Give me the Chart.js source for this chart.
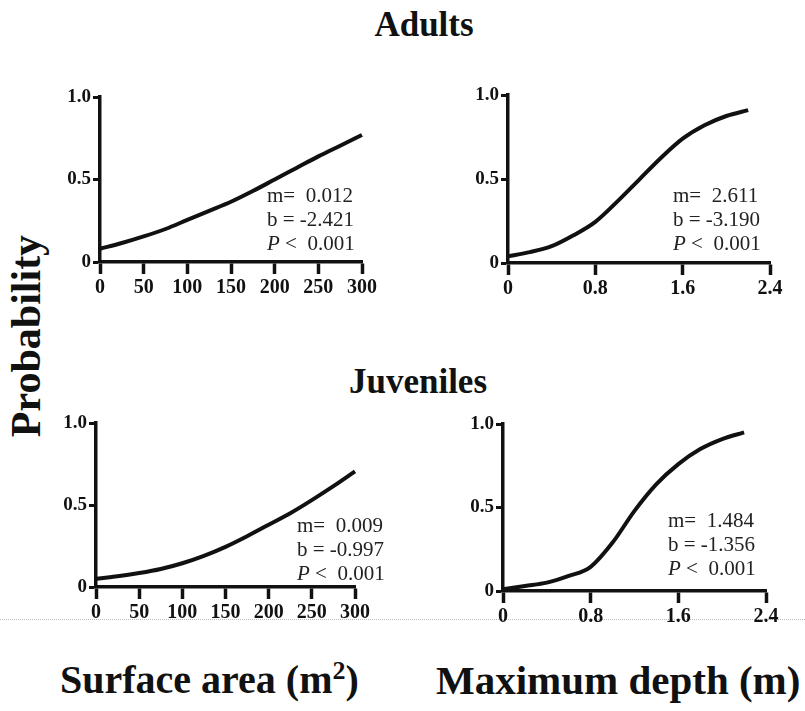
<!DOCTYPE html>
<html>
<head>
<meta charset="utf-8">
<script src="https://cdn.jsdelivr.net/npm/chart.js@4.4.1/dist/chart.umd.min.js"></script>
<style>
  body { margin: 0; background: #fff; }
  #page { position: relative; width: 805px; height: 711px; overflow: hidden; font-family: "Liberation Serif", "DejaVu Serif", serif; color: #111; }
  .box { position: absolute; }
  .title { position: absolute; font-weight: bold; font-size: 35px; line-height: 1; transform: translateX(-50%); white-space: nowrap; }
  .note { position: absolute; font-size: 21px; line-height: 24px; white-space: pre; color: #222; }
  .xlab { position: absolute; font-weight: bold; font-size: 40px; white-space: nowrap; }
  #ylab { position: absolute; left: 26px; top: 336px; font-weight: bold; font-size: 42px; transform: translate(-50%, -50%) rotate(-90deg); white-space: nowrap; }
  #scan { position: absolute; left: 0; top: 619px; width: 805px; border-top: 1px dotted #bbb; }
</style>
</head>
<body>
<div id="page">
  <div class="title" style="left:424px; top:7px;">Adults</div>
  <div class="title" style="left:418px; top:364px;">Juveniles</div>
  <div id="ylab">Probability</div>
  <div id="scan"></div>
  <div class="xlab" style="left:60px; top:656px;">Surface area (m<sup style="font-size:26px">2</sup>)</div>
  <div class="xlab" style="left:436px; top:656px; font-size:41px;">Maximum depth (m)</div>
</div>
<script>
// x values
const areaX = [0, 25, 50, 75, 100, 125, 150, 175, 200, 225, 250, 275, 300];
const depthX = [0, 0.2, 0.4, 0.6, 0.8, 1.0, 1.2, 1.4, 1.6, 1.8, 2.0, 2.2];

// fitted probabilities
const adultsArea = [0.08, 0.115, 0.155, 0.2, 0.255, 0.31, 0.365, 0.43, 0.5, 0.57, 0.64, 0.705, 0.77];
const adultsDepth = [0.04, 0.065, 0.10, 0.165, 0.245, 0.365, 0.495, 0.625, 0.74, 0.82, 0.875, 0.91];
const juvArea = [0.05, 0.065, 0.085, 0.11, 0.145, 0.19, 0.245, 0.31, 0.38, 0.45, 0.53, 0.615, 0.705];
const juvDepth = [0.01, 0.03, 0.05, 0.09, 0.145, 0.29, 0.48, 0.64, 0.76, 0.85, 0.91, 0.95];

// tick labels
const areaTicks = [0, 50, 100, 150, 200, 250, 300];
const areaTickLabels = ['0', '50', '100', '150', '200', '250', '300'];
const depthTicks = [0, 0.8, 1.6, 2.4];
const depthTickLabels = ['0', '0.8', '1.6', '2.4'];
const probTicks = [0, 0.5, 1];
const probTickLabels = ['0', '0.5', '1.0'];

// regression stats
const adultsAreaStats = ['m=  0.012', 'b = -2.421', '<  0.001'];
const adultsDepthStats = ['m=  2.611', 'b = -3.190', '<  0.001'];
const juvAreaStats = ['m=  0.009', 'b = -0.997', '<  0.001'];
const juvDepthStats = ['m=  1.484', 'b = -1.356', '<  0.001'];

const FONT = '"Liberation Serif", "DejaVu Serif", serif';
const INK = '#111';

const panels = [
  { left: 100, top: 97, w: 262, h: 165, xs: areaX, ys: adultsArea, xt: areaTicks, xl: areaTickLabels, xmax: 300, stats: adultsAreaStats, nx: 267, ny: 183 },
  { left: 508, top: 95, w: 262, h: 168, xs: depthX, ys: adultsDepth, xt: depthTicks, xl: depthTickLabels, xmax: 2.4, stats: adultsDepthStats, nx: 673, ny: 183 },
  { left: 96, top: 423, w: 259, h: 164, xs: areaX, ys: juvArea, xt: areaTicks, xl: areaTickLabels, xmax: 300, stats: juvAreaStats, nx: 297, ny: 513 },
  { left: 503, top: 424, w: 263, h: 167, xs: depthX, ys: juvDepth, xt: depthTicks, xl: depthTickLabels, xmax: 2.4, stats: juvDepthStats, nx: 668, ny: 508 }
];

const YW = 50, XH = 45, PT = 15, PR = 30;

function makePanel(p) {
  const page = document.getElementById('page');
  const box = document.createElement('div');
  box.className = 'box';
  box.style.left = (p.left - YW) + 'px';
  box.style.top = (p.top - PT) + 'px';
  const cv = document.createElement('canvas');
  cv.width = YW + p.w + PR;
  cv.height = PT + p.h + XH;
  cv.style.width = cv.width + 'px';
  cv.style.height = cv.height + 'px';
  box.appendChild(cv);
  page.appendChild(box);

  new Chart(cv.getContext('2d'), {
    type: 'scatter',
    data: {
      datasets: [{
        data: p.xs.map((x, i) => ({ x: x, y: p.ys[i] })),
        showLine: true,
        borderColor: INK,
        borderWidth: 4,
        pointRadius: 0,
        cubicInterpolationMode: 'monotone',
        clip: false
      }]
    },
    options: {
      responsive: false,
      animation: false,
      events: [],
      layout: { padding: { left: 0, top: PT, right: PR, bottom: 0 } },
      plugins: { legend: { display: false }, tooltip: { enabled: false } },
      scales: {
        x: {
          type: 'linear', min: 0, max: p.xmax,
          afterBuildTicks: s => { s.ticks = p.xt.map(v => ({ value: v })); },
          afterFit: s => { s.height = XH; s.paddingLeft = 0; s.paddingRight = 0; },
          grid: { drawOnChartArea: false, tickLength: 12, tickWidth: 3.5, tickColor: INK },
          border: { width: 3.5, color: INK },
          ticks: {
            autoSkip: false, maxRotation: 0, padding: 2, color: INK,
            font: { family: FONT, size: 20, weight: 'bold' },
            callback: (v, i) => p.xl[i]
          }
        },
        y: {
          type: 'linear', min: 0, max: 1,
          afterBuildTicks: s => { s.ticks = probTicks.map(v => ({ value: v })); },
          afterFit: s => { s.width = YW; s.paddingTop = 0; s.paddingBottom = 0; },
          grid: { drawOnChartArea: false, tickLength: 7, tickWidth: 3, tickColor: INK },
          border: { width: 3.5, color: INK },
          ticks: {
            padding: 2, color: INK,
            font: { family: FONT, size: 19, weight: 'bold' },
            callback: (v, i) => probTickLabels[i]
          }
        }
      }
    }
  });

  const note = document.createElement('div');
  note.className = 'note';
  note.style.left = p.nx + 'px';
  note.style.top = p.ny + 'px';
  note.innerHTML = p.stats[0] + '\n' + p.stats[1] + '\n<i>P</i> ' + p.stats[2];
  page.appendChild(note);
}

panels.forEach(makePanel);
</script>
</body>
</html>
